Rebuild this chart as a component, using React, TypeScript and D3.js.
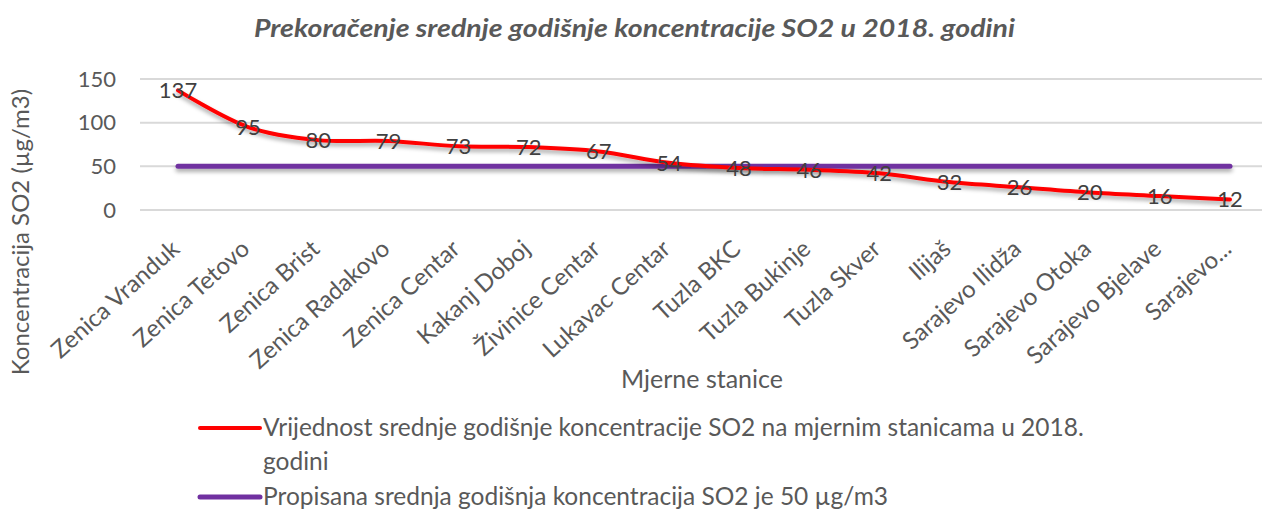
import React, { useEffect } from "react";
import * as d3 from "d3";

// mjerne stanice i izmjerene vrijednosti (µg/m3)
const stations = [
  "Zenica Vranduk",
  "Zenica Tetovo",
  "Zenica Brist",
  "Zenica Radakovo",
  "Zenica Centar",
  "Kakanj Doboj",
  "Živinice Centar",
  "Lukavac Centar",
  "Tuzla BKC",
  "Tuzla Bukinje",
  "Tuzla Skver",
  "Ilijaš",
  "Sarajevo Ilidža",
  "Sarajevo Otoka",
  "Sarajevo Bjelave",
  "Sarajevo...",
];
const measured = [137, 95, 80, 79, 73, 72, 67, 54, 48, 46, 42, 32, 26, 20, 16, 12];
const limit = stations.map(() => 50);
const yTicks = [0, 50, 100, 150];

const title = "Prekoračenje srednje godišnje koncentracije SO2 u 2018. godini";
const yTitle = "Koncentracija SO2 (µg/m3)";
const xTitle = "Mjerne stanice";
const legendRed = ["Vrijednost srednje godišnje koncentracije SO2 na mjernim stanicama u 2018.", "godini"];
const legendPurple = "Propisana srednja godišnja koncentracija SO2 je 50 µg/m3";

const W = 1266;
const H = 509;
const FONT = "Lato, 'Open Sans', sans-serif";
const GREY = "#595959";
const RED = "#ff0000";
const PURPLE = "#7030a0";

const App: React.FC = () => {
  useEffect(() => {
    document.body.style.margin = "0";
  }, []);

  const x = d3.scalePoint<string>().domain(stations).range([178, 1230]);
  const y = d3.scaleLinear().domain([0, 150]).range([210, 79]);

  const lineGen = d3
    .line<number>()
    .x((_, i) => x(stations[i]) as number)
    .y((d) => y(d))
    .curve(d3.curveCatmullRom.alpha(0.5));

  const flatLine = d3
    .line<number>()
    .x((_, i) => x(stations[i]) as number)
    .y((d) => y(d));

  return (
    <svg width={W} height={H} style={{ display: "block", background: "#fff" }} fontFamily={FONT}>
      <defs>
        <filter id="shadow" filterUnits="userSpaceOnUse" x={0} y={0} width={W} height={H}>
          <feDropShadow dx="0" dy="3" stdDeviation="2" floodColor="#000" floodOpacity="0.35" />
        </filter>
      </defs>

      {/* naslov */}
      <text
        x={254}
        y={37}
        textLength={761}
        lengthAdjust="spacingAndGlyphs"
        fontSize={25}
        fontWeight="bold"
        fontStyle="italic"
        fill={GREY}
      >
        {title}
      </text>

      {/* mreža i oznake osi Y */}
      {yTicks.map((t) => (
        <g key={t}>
          <line x1={140} x2={1262} y1={y(t)} y2={y(t)} stroke="#d9d9d9" strokeWidth={2} />
          <text x={116} y={y(t)} dy="0.35em" textAnchor="end" fontSize={22} fill={GREY}>
            {t}
          </text>
        </g>
      ))}

      <text
        transform={`translate(21, 232) rotate(-90)`}
        textAnchor="middle"
        dy="0.35em"
        fontSize={24}
        fill={GREY}
      >
        {yTitle}
      </text>

      {/* oznake stanica */}
      {stations.map((s) => (
        <text
          key={s}
          transform={`translate(${(x(s) as number) + 3}, 251) rotate(-42)`}
          textAnchor="end"
          fontSize={24}
          fill={GREY}
        >
          {s}
        </text>
      ))}

      <text x={702} y={388} textAnchor="middle" fontSize={25} fill={GREY}>
        {xTitle}
      </text>

      {/* linije */}
      <path d={flatLine(limit) || ""} fill="none" stroke={PURPLE} strokeWidth={5} strokeLinecap="round" filter="url(#shadow)" />
      <path d={lineGen(measured) || ""} fill="none" stroke={RED} strokeWidth={4} strokeLinecap="round" filter="url(#shadow)" />

      {/* vrijednosti */}
      {measured.map((v, i) => (
        <text
          key={i}
          x={x(stations[i]) as number}
          y={y(v)}
          dy="0.35em"
          textAnchor="middle"
          fontSize={22}
          fill="#404040"
        >
          {v}
        </text>
      ))}

      {/* legenda */}
      <line x1={200} x2={260} y1={428} y2={428} stroke={RED} strokeWidth={4} strokeLinecap="round" />
      <text x={263} y={436} fontSize={24.5} fill={GREY}>
        {legendRed[0]}
      </text>
      <text x={263} y={470} fontSize={24.5} fill={GREY}>
        {legendRed[1]}
      </text>
      <line x1={200} x2={260} y1={497} y2={497} stroke={PURPLE} strokeWidth={5} strokeLinecap="round" />
      <text x={263} y={505} fontSize={24.5} fill={GREY}>
        {legendPurple}
      </text>
    </svg>
  );
};

export default App;
